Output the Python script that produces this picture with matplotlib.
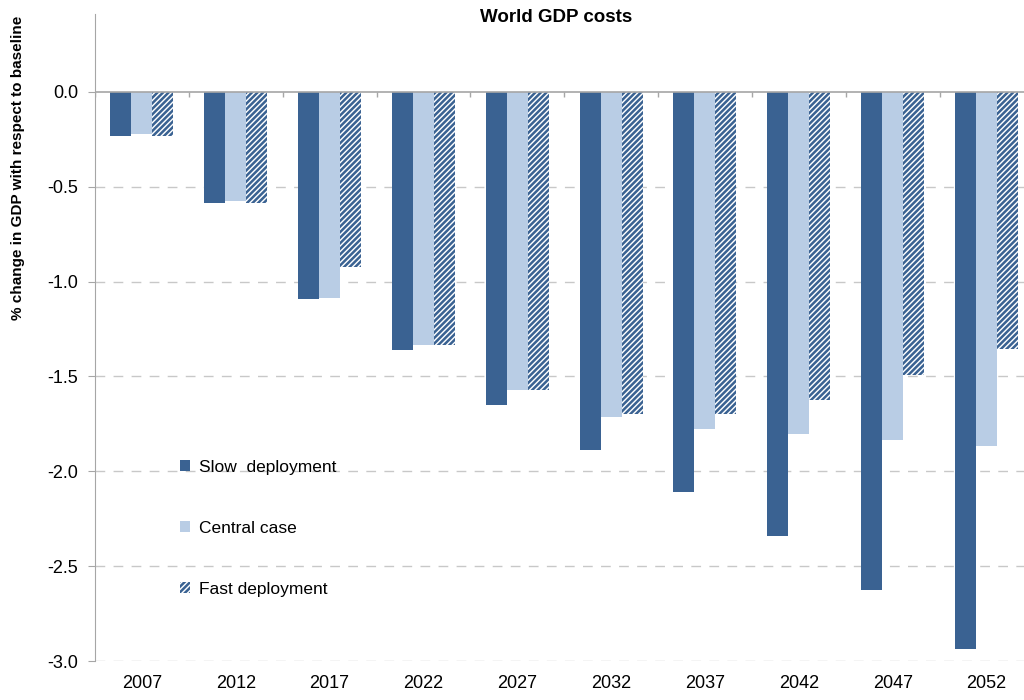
import matplotlib.pyplot as plt
import numpy as np

plt.rcParams['font.family'] = ['Liberation Sans', 'DejaVu Sans']
plt.rcParams['hatch.linewidth'] = 1.8

years = ['2007', '2012', '2017', '2022', '2027', '2032', '2037', '2042', '2047', '2052']
slow = [-0.235, -0.585, -1.09, -1.36, -1.65, -1.887, -2.11, -2.34, -2.625, -2.935]
central = [-0.225, -0.575, -1.085, -1.334, -1.571, -1.713, -1.776, -1.803, -1.834, -1.866]
fast = [-0.235, -0.585, -0.926, -1.334, -1.571, -1.697, -1.697, -1.624, -1.492, -1.356]

dark = '#3A6292'
light = '#B9CDE5'

fig = plt.figure(figsize=(10.24, 7), dpi=100)
ax = fig.add_axes([0.0928, 0.0557, 0.9072, 0.9243])

x = np.arange(len(years))
w = 0.224
ax.bar(x - w, slow, w, color=dark, label='Slow  deployment', zorder=3)
ax.bar(x, central, w, color=light, label='Central case', zorder=3)
ax.bar(x + w, fast, w, color='white', edgecolor=dark, hatch='//////', linewidth=0,
       label='Fast deployment', zorder=3)

ax.set_xlim(-0.5, 9.4)
ax.set_ylim(-3.0, 0.41)

# zero line with category separators
ax.axhline(0, color='#A6A6A6', lw=1.2, zorder=4)
ax.vlines(np.arange(len(years) + 1) - 0.5, -0.027, 0, color='#A6A6A6', lw=1, zorder=4)

ax.set_yticks(np.arange(-3.0, 0.01, 0.5))
ax.set_yticklabels(['%.1f' % v for v in np.arange(-3.0, 0.01, 0.5)], fontsize=13)
for v in np.arange(-3.0, -0.01, 0.5):
    ax.axhline(v, color='#C8C8C8', lw=1, ls=(0, (7, 6)), zorder=1)

ax.set_xticks(x)
ax.set_xticklabels(years, fontsize=13)
ax.tick_params(axis='x', length=0, pad=10)
ax.tick_params(axis='y', length=5, color='#A6A6A6', pad=7)

for s in ['top', 'right', 'bottom']:
    ax.spines[s].set_visible(False)
ax.spines['left'].set_color('#A6A6A6')

ax.set_ylabel('% change in GDP with respect to baseline', fontsize=11, fontweight='bold')
ax.yaxis.set_label_coords(-0.0755, 0.762)
fig.text(556 / 1024, 1 - 18 / 700, 'World GDP costs', ha='center', va='center',
         fontsize=13.5, fontweight='bold')

ax.legend(loc='upper left', bbox_to_anchor=(164 / 1024, 1 - 444 / 700),
          bbox_transform=fig.transFigure, frameon=False, fontsize=12.5,
          labelspacing=2.65, handlelength=0.6, handleheight=0.6, handletextpad=0.5)

plt.savefig('out.png', dpi=100)
